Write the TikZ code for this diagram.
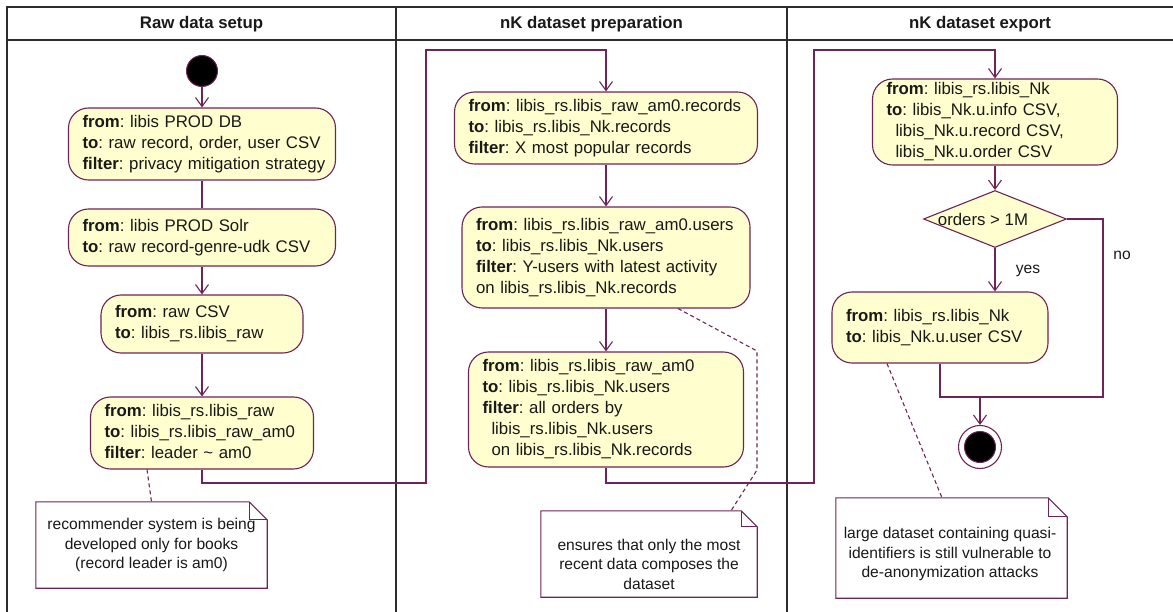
\documentclass[tikz,border=0pt]{standalone}
\usepackage{fontspec}
\setmainfont{Liberation Sans}
\usetikzlibrary{arrows.meta,shapes.geometric}

\definecolor{umlline}{RGB}{110,36,88}
\definecolor{umlfill}{RGB}{254,254,206}
\definecolor{lanegray}{RGB}{45,45,45}
\definecolor{inktext}{RGB}{25,25,25}

% left-aligned stack of lines that never wraps
\newcommand\actlines[1]{\begin{tabular}{@{}l@{}}#1\end{tabular}}
\newcommand\actindent{\hspace*{9pt}}

% note frame with a folded top-right corner: node name, fold size
\newcommand\dogear[2]{%
  \draw[noteline, fill=white] (#1.north west) -- ([xshift=-#2]#1.north east)
    -- ([yshift=-#2]#1.north east) -- (#1.south east) -- (#1.south west) -- cycle;
  \draw[noteline] ([xshift=-#2]#1.north east) |- ([yshift=-#2]#1.north east);
}

\frenchspacing

\begin{document}
\begin{tikzpicture}[x=1pt, y=-1pt,
  lane/.style={draw=lanegray, line width=1.3pt},
  lanehead/.style={font=\fontsize{16.8}{20}\selectfont\bfseries, text=inktext},
  act/.style={draw=umlline, fill=umlfill, line width=1.1pt, rounded corners=20pt,
    inner xsep=14pt, inner ysep=0pt, align=left, text=inktext,
    font=\fontsize{16.8}{21}\selectfont},
  flow/.style={draw=umlline, line width=1.1pt,
    -{Straight Barb[length=9pt, width=13pt, line width=1.1pt]}},
  link/.style={draw=umlline, line width=1.1pt},
  anchorline/.style={draw=umlline, line width=1.1pt, dash pattern=on 4pt off 3pt},
  noteline/.style={draw=umlline, line width=1.1pt},
  notebody/.style={draw=none, inner sep=0pt},
  notetext/.style={align=center, text=inktext, font=\fontsize{15.6}{19.5}\selectfont},
  guard/.style={text=inktext, font=\fontsize{15.6}{19}\selectfont},
  startdot/.style={circle, fill=black, draw=umlline, line width=1pt, inner sep=0pt, minimum size=31pt},
  decision/.style={diamond, draw=umlline, fill=umlfill, line width=1.1pt, inner sep=0pt, aspect=2.5}
]
\useasboundingbox (0,0) rectangle (1173,612);

% swimlane frame
\draw[lane] (7,620) -- (7,7) -- (1180,7);
\draw[lane] (7,40) -- (1180,40);
\draw[lane] (396,7) -- (396,620);
\draw[lane] (787,7) -- (787,620);

\node[lanehead] (h1) at (201.5,24) {Raw data setup};
\node[lanehead] (h2) at (591.5,24) {nK dataset preparation};
\node[lanehead] (h3) at (980,24) {nK dataset export};

% lane 1: raw data setup
\node[startdot] (start) at (202,71) {};
\node[act, minimum width=267pt, minimum height=72pt, text width=239pt] (b1) at (202,144)
  {\actlines{\textbf{from}: libis PROD DB\\ \textbf{to}: raw record, order, user CSV\\ \textbf{filter}: privacy mitigation strategy}};
\node[act, minimum width=267pt, minimum height=57pt, text width=239pt] (b2) at (202,237.5)
  {\actlines{\textbf{from}: libis PROD Solr\\ \textbf{to}: raw record-genre-udk CSV}};
\node[act, minimum width=202pt, minimum height=58pt, text width=174pt] (b3) at (202,324)
  {\actlines{\textbf{from}: raw CSV\\ \textbf{to}: libis\_rs.libis\_raw}};
\node[act, minimum width=223pt, minimum height=72pt, text width=195pt] (b4) at (202,433)
  {\actlines{\textbf{from}: libis\_rs.libis\_raw\\ \textbf{to}: libis\_rs.libis\_raw\_am0\\ \textbf{filter}: leader \textasciitilde\ am0}};

% lane 2: dataset preparation
\node[act, minimum width=303pt, minimum height=72pt, text width=275pt] (b5) at (606,128)
  {\actlines{\textbf{from}: libis\_rs.libis\_raw\_am0.records\\ \textbf{to}: libis\_rs.libis\_Nk.records\\ \textbf{filter}: X most popular records}};
\node[act, minimum width=288pt, minimum height=101pt, text width=260pt] (b6) at (606,257.5)
  {\actlines{\textbf{from}: libis\_rs.libis\_raw\_am0.users\\ \textbf{to}: libis\_rs.libis\_Nk.users\\ \textbf{filter}: Y-users with latest activity\\ on libis\_rs.libis\_Nk.records}};
\node[act, minimum width=275pt, minimum height=115pt, text width=247pt] (b7) at (606,409.5)
  {\actlines{\textbf{from}: libis\_rs.libis\_raw\_am0\\ \textbf{to}: libis\_rs.libis\_Nk.users\\ \textbf{filter}: all orders by\\ \actindent libis\_rs.libis\_Nk.users\\ \actindent on libis\_rs.libis\_Nk.records}};

% lane 3: dataset export
\node[act, minimum width=245pt, minimum height=86pt, text width=217pt] (b8) at (995,122)
  {\actlines{\textbf{from}: libis\_rs.libis\_Nk\\ \textbf{to}: libis\_Nk.u.info CSV,\\ \actindent libis\_Nk.u.record CSV,\\ \actindent libis\_Nk.u.order CSV}};
\node[decision, minimum width=143pt, minimum height=57pt] (d) at (995,219) {};
\node[text=inktext, font=\fontsize{16.8}{20}\selectfont] (dt) at (983,219) {orders > 1M};
\node[act, minimum width=216pt, minimum height=71pt, text width=188pt] (b9) at (940,327.5)
  {\actlines{\textbf{from}: libis\_rs.libis\_Nk\\ \textbf{to}: libis\_Nk.u.user CSV}};
\node[circle, draw=umlline, fill=white, line width=1.1pt, inner sep=0pt, minimum size=43pt] (stop) at (980,447) {};
\node[startdot] (stopdot) at (stop.center) {};

% notes
\node[notebody, minimum width=231pt, minimum height=86pt] (n1) at (151.5,545) {};
\dogear{n1}{18pt}
\node[notetext] (n1t) at (151.5,545) {recommender system is being\\ developed only for books\\ (record leader is am0)};

\node[notebody, minimum width=216pt, minimum height=86pt] (n2) at (649,554) {};
\dogear{n2}{16pt}
\node[notetext] (n2t) at (649,564) {ensures that only the most\\ recent data composes the\\ dataset};

\node[notebody, minimum width=231pt, minimum height=100pt] (n3) at (951.5,548) {};
\dogear{n3}{19pt}
\node[notetext] (n3t) at (950,554) {large dataset containing quasi-\\ identifiers is still vulnerable to\\ de-anonymization attacks};

% connectors
\coordinate (j1a) at (426,483);
\coordinate (j1b) at (426,50);
\coordinate (j2a) at (814,483);
\coordinate (j2b) at (814,50);
\coordinate (nocorner) at (1103,397);
\coordinate (merge) at (980,397);
\coordinate (c1) at (757,351);
\coordinate (c2) at (757,470);

\draw[flow] (start) -- (b1);
\draw[link] (b1) -- (b2);
\draw[flow] (b2) -- (b3);
\draw[flow] (b3) -- (b4);
\draw[flow] (b4.south) |- (j1a) -- (j1b) -| (b5.north);
\draw[flow] (b5) -- (b6);
\draw[flow] (b6) -- (b7);
\draw[flow] (b7.south) |- (j2a) -- (j2b) -| (b8.north);
\draw[flow] (b8) -- (d);
\draw[flow] (d.south) -- (d.south |- b9.north);
\draw[link] (d.east) -| (nocorner) -- (merge);
\draw[link] (b9.south) |- (merge);
\draw[flow] (merge) -- (stop.north);

\node[guard] (yes) at (1028,271) {yes};
\node[guard] (no) at (1122,255) {no};

% note anchors
\draw[anchorline] ([xshift=-55pt]b4.south) -- (n1.north);
\draw[anchorline] ([xshift=72pt]b6.south) -- (c1) -- (c2) -- ([xshift=82pt]n2.north);
\draw[anchorline] ([xshift=-53pt]b9.south) -- ([xshift=-9.5pt]n3.north);
\end{tikzpicture}
\end{document}
